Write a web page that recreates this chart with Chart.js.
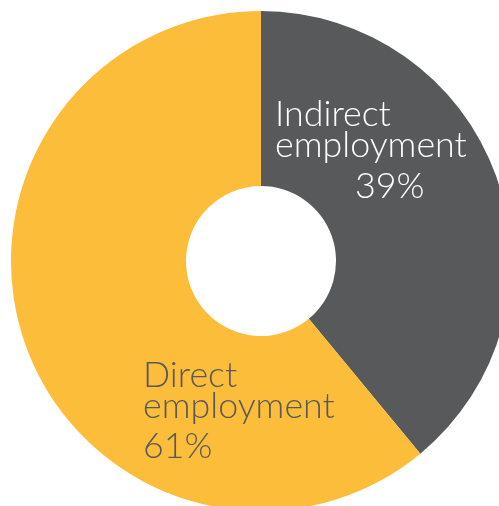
<!DOCTYPE html>
<html>
<head>
<meta charset="utf-8">
<script src="https://cdn.jsdelivr.net/npm/chart.js@4/dist/chart.umd.min.js"></script>
<style>
	html, body { margin: 0; padding: 0; background: #fff; overflow: hidden; width: 499px; height: 506px; }
	#wrap { position: absolute; left: 0; top: 0; width: 522px; height: 522px; }
</style>
</head>
<body>
<div id="wrap"><canvas id="emp-chart" width="522" height="522"></canvas></div>
<script>
const categories = ["Indirect employment", "Direct employment"]
const shares = [39, 61]
const sliceColors = ["#58595b", "#fcbd3a"]

// text blocks: lines, text colour, line positions as offsets from chart centre
const labelBlocks = [
	{ lines: ["Indirect", "employment", "39%"], color: "#ffffff",
		pos: [[14, -135], [14, -104], [94, -63]] },
	{ lines: ["Direct", "employment", "61%"], color: "#58595b",
		pos: [[-118, 126], [-118, 157], [-118, 197]] }
]

const labelPlugin = {
	id: "sliceLabels",
	afterDatasetsDraw(chart) {
		const ctx = chart.ctx
		const arc = chart.getDatasetMeta(0).data[0]
		const cx = arc.x, cy = arc.y
		ctx.save()
		// fit font so "employment" is about 192px wide
		ctx.font = "300 30px Lato"
		const w = ctx.measureText("employment").width
		const size = 30 * 192 / w
		ctx.font = "300 " + size.toFixed(1) + "px Lato"
		ctx.textBaseline = "alphabetic"
		ctx.textAlign = "left"
		labelBlocks.forEach(b => {
			ctx.fillStyle = b.color
			b.lines.forEach((t, i) => {
				ctx.fillText(t, cx + b.pos[i][0], cy + b.pos[i][1])
			})
		})
		ctx.restore()
	}
}

const empChart = new Chart("emp-chart", {
	type: "doughnut",
	data: {
		labels: categories,
		datasets: [{
			data: shares,
			backgroundColor: sliceColors,
			borderWidth: 0
		}]
	},
	options: {
		responsive: false,
		animation: false,
		cutout: "30%",
		layout: { padding: 11 },
		plugins: {
			legend: { display: false },
			tooltip: { enabled: false }
		}
	},
	plugins: [labelPlugin]
})
</script>
</body>
</html>
